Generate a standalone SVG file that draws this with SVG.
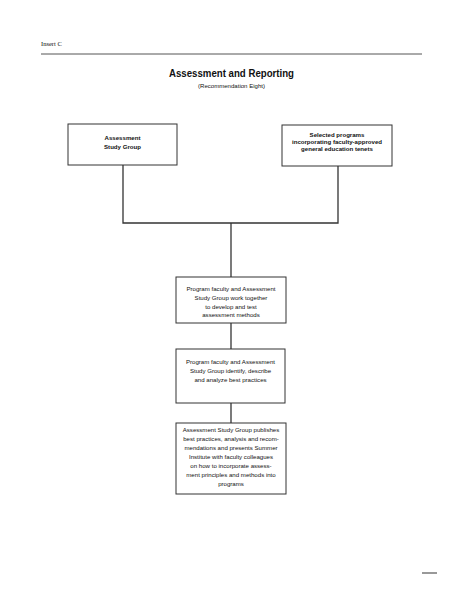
<svg xmlns="http://www.w3.org/2000/svg" width="463" height="599" viewBox="0 0 463 599">
<style>
.box{fill:#fff;stroke:#333;stroke-width:1}
.c{fill:none;stroke:#333;stroke-width:1.3}
text{font-family:"Liberation Sans",Arial,sans-serif;fill:#111}
.t{font-size:6.1px;text-anchor:middle}
.b{font-weight:bold}
</style>
<rect width="463" height="599" fill="#fff"/>
<text x="41" y="46" style="font-family:'Liberation Serif',serif;font-size:6.5px">Insert C</text>
<line x1="41" y1="54" x2="422" y2="54" stroke="#555" stroke-width="1"/>
<text x="231.5" y="77" text-anchor="middle" style="font-size:11.5px;font-weight:bold" textLength="125" lengthAdjust="spacingAndGlyphs">Assessment and Reporting</text>
<text x="231.5" y="88" text-anchor="middle" style="font-size:5.5px" textLength="67" lengthAdjust="spacingAndGlyphs">(Recommendation Eight)</text>
<g id="connectors">
<polyline class="c" points="123,165 123,223 338,223 338,166"/>
<line class="c" x1="231" y1="223" x2="231" y2="277"/>
<line class="c" x1="231" y1="323" x2="231" y2="349"/>
<line class="c" x1="231" y1="403" x2="231" y2="423"/>
</g>
<g id="n1">
<rect class="box" x="68" y="124" width="109" height="41"/>
<text class="t b" x="122.5" y="140">Assessment</text>
<text class="t b" x="122.5" y="149">Study Group</text>
</g>
<g id="n2">
<rect class="box" x="282" y="125" width="110" height="41"/>
<text class="t b" x="337" y="137">Selected programs</text>
<text class="t b" x="337" y="144">incorporating faculty-approved</text>
<text class="t b" x="337" y="151">general education tenets</text>
</g>
<g id="n3">
<rect class="box" x="176" y="277" width="110" height="46"/>
<text class="t" x="231" y="291">Program faculty and Assessment</text>
<text class="t" x="231" y="299.5">Study Group work together</text>
<text class="t" x="231" y="308.5">to develop and test</text>
<text class="t" x="231" y="317">assessment methods</text>
</g>
<g id="n4">
<rect class="box" x="176" y="349" width="109" height="54"/>
<text class="t" x="230.5" y="363.5">Program faculty and Assessment</text>
<text class="t" x="230.5" y="372.5">Study Group identify, describe</text>
<text class="t" x="230.5" y="381.5">and analyze best practices</text>
</g>
<g id="n5">
<rect class="box" x="176" y="423" width="110" height="71"/>
<text class="t" x="231" y="432">Assessment Study Group publishes</text>
<text class="t" x="231" y="441">best practices, analysis and recom-</text>
<text class="t" x="231" y="450">mendations and presents Summer</text>
<text class="t" x="231" y="459">Institute with faculty colleagues</text>
<text class="t" x="231" y="468">on how to incorporate assess-</text>
<text class="t" x="231" y="477">ment principles and methods into</text>
<text class="t" x="231" y="486">programs</text>
</g>
<line x1="422" y1="573" x2="437" y2="573" stroke="#555" stroke-width="1.2"/>
</svg>
